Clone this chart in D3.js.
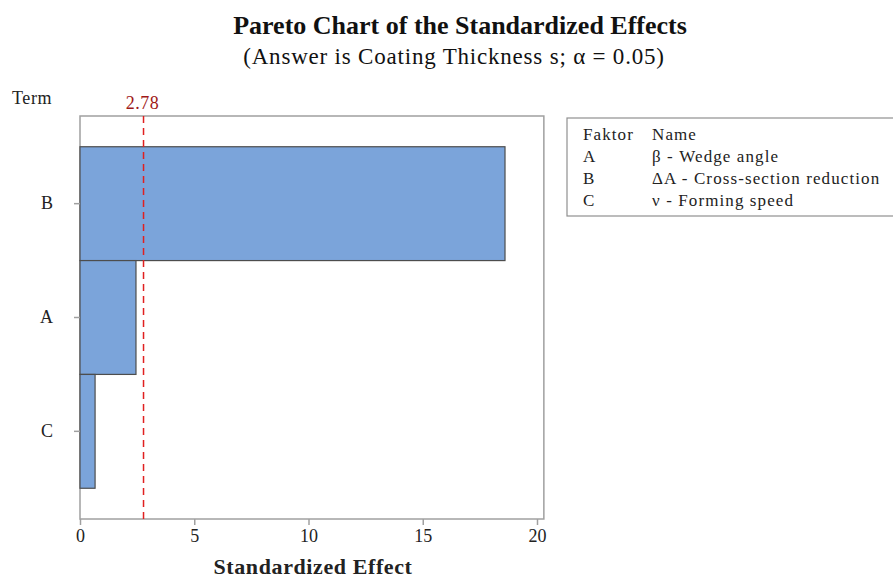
<!DOCTYPE html>
<html><head><meta charset="utf-8">
<script src="https://cdn.jsdelivr.net/npm/d3@7/dist/d3.min.js"></script>
<style>body{margin:0;background:#fff}text{font-family:"Liberation Serif","Times New Roman",serif}</style>
</head><body><svg id="c" width="893" height="581"></svg>
<script>
const terms = ["B","A","C"];
const effects = [18.6, 2.45, 0.66];
const xTicks = [0,5,10,15,20];
const critical = 2.78;
const legendCodes = ["A","B","C"];
const legendNames = ["β - Wedge angle","ΔA - Cross-section reduction","ν - Forming speed"];

(function(){
const svg = d3.select("#c");
const pL=80, pT=116, pB=519;
const x = d3.scaleLinear().domain([0,20.3]).range([pL, pL+(20.3/20)*457]);
const y = d3.scaleBand().domain(terms).range([pT,pB]).paddingInner(0).paddingOuter(0.27);

svg.append("text").attr("x",460).attr("y",34).attr("text-anchor","middle").attr("font-size",26).attr("font-weight","bold").attr("fill","#111").text("Pareto Chart of the Standardized Effects");
svg.append("text").attr("x",454).attr("y",64).attr("text-anchor","middle").attr("font-size",23).attr("letter-spacing",0.8).attr("fill","#111").text("(Answer is Coating Thickness s; α = 0.05)");

svg.append("rect").attr("x",pL).attr("y",pT).attr("width",x(20.3)-pL).attr("height",pB-pT).attr("fill","none").attr("stroke","#a0a0a0").attr("stroke-width",1.5);

svg.selectAll("rect.bar").data(terms).enter().append("rect").attr("class","bar")
 .attr("x",x(0)).attr("y",d=>y(d)).attr("width",(d,i)=>x(effects[i])-x(0)).attr("height",y.bandwidth())
 .attr("fill","#7BA4DA").attr("stroke","#4d4d4d").attr("stroke-width",1.2);

svg.append("line").attr("x1",x(critical)).attr("x2",x(critical)).attr("y1",pT).attr("y2",pB)
 .attr("stroke","#e02020").attr("stroke-width",1.5).attr("stroke-dasharray","7,5");
svg.append("text").attr("x",x(critical)-1).attr("y",109).attr("text-anchor","middle").attr("font-size",18).attr("letter-spacing",0.5).attr("fill","#a01818").text("2.78");

const xa = svg.append("g").attr("transform",`translate(0,${pB})`).call(d3.axisBottom(x).tickValues(xTicks).tickSize(6).tickPadding(4));
xa.select(".domain").remove();
xa.selectAll("line").attr("stroke","#a0a0a0").attr("stroke-width",1.5);
xa.selectAll("text").attr("font-size",18).attr("fill","#222").style("font-family",'"Liberation Serif",serif');

const ya = svg.append("g").attr("transform",`translate(${pL},0)`).call(d3.axisLeft(y).tickSize(6).tickPadding(21));
ya.select(".domain").remove();
ya.selectAll("line").attr("stroke","#a0a0a0").attr("stroke-width",1.5);
ya.selectAll("text").attr("font-size",18).attr("fill","#222").style("font-family",'"Liberation Serif",serif');

svg.append("text").attr("x",12).attr("y",104).attr("font-size",18).attr("letter-spacing",0.6).attr("fill","#222").text("Term");
svg.append("text").attr("x",313).attr("y",574).attr("text-anchor","middle").attr("font-size",22).attr("letter-spacing",0.6).attr("font-weight","bold").attr("fill","#222").text("Standardized Effect");

svg.append("rect").attr("x",567).attr("y",118).attr("width",330).attr("height",98).attr("fill","none").attr("stroke","#909090").attr("stroke-width",1.2);
const lg = svg.append("g").attr("font-size",17).attr("letter-spacing",1.1).attr("fill","#222");
lg.append("text").attr("x",583).attr("y",140).text("Faktor");
lg.append("text").attr("x",652).attr("y",140).text("Name");
legendCodes.forEach((c,i)=>{
  lg.append("text").attr("x",583).attr("y",162+i*22).text(c);
  lg.append("text").attr("x",652).attr("y",162+i*22).text(legendNames[i]);
});
})();
</script></body></html>
